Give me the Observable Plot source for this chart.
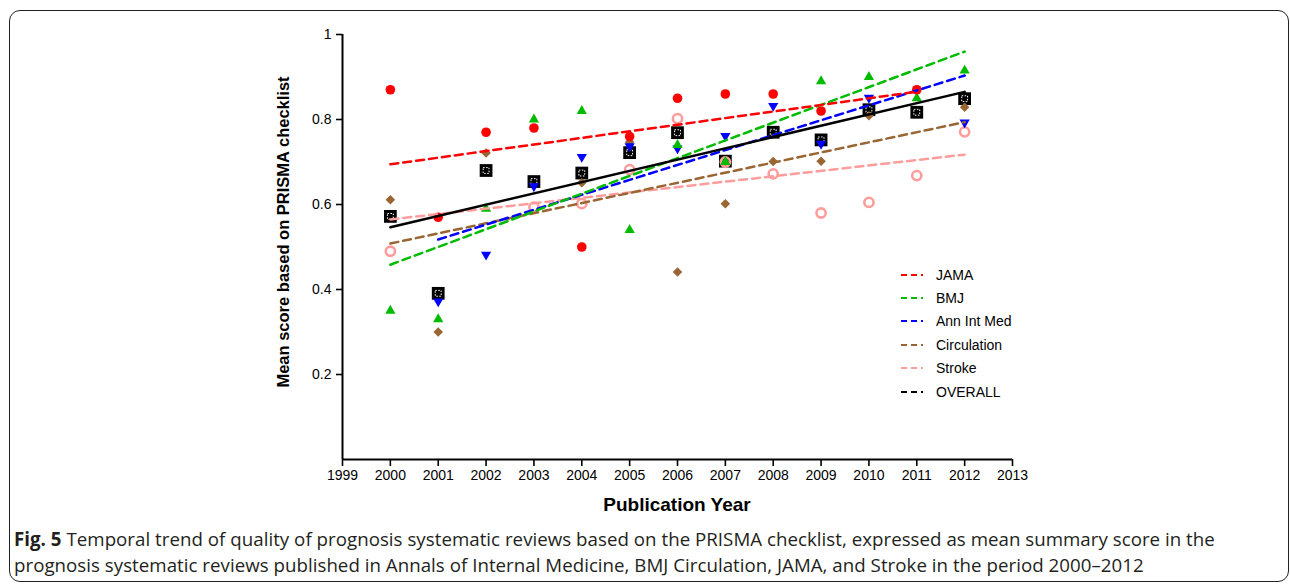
<!DOCTYPE html>
<html><head><meta charset="utf-8">
<script src="https://cdn.jsdelivr.net/npm/d3@7"></script>
<script src="https://cdn.jsdelivr.net/npm/@observablehq/plot@0.6"></script>
<style>
html,body{margin:0;padding:0;background:#fff}
body{width:1290px;height:584px;overflow:hidden;position:relative;font-family:"Liberation Sans",Arial,sans-serif;color:#000}
#frame{position:absolute;left:9px;top:10px;width:1280px;height:572px;box-sizing:border-box;border:1.5px solid #222;border-radius:11px}
#chart{position:absolute;left:0;top:0}
#ytitle{position:absolute;left:283px;top:232px;transform:translate(-50%,-50%) rotate(-90deg);white-space:nowrap;font-weight:bold;font-size:16.5px}
#xtitle{position:absolute;left:677px;top:505px;transform:translate(-50%,-50%);white-space:nowrap;font-weight:bold;font-size:19px}
#legend{position:absolute;left:900px;top:263px;font-size:14px}
#legend .row{height:23.4px;display:flex;align-items:center}
#legend svg{margin-right:12px}
#caption{position:absolute;left:14px;top:526px;font-family:"Open Sans",sans-serif;font-size:18.7px;line-height:26px;color:#231f20;white-space:nowrap;letter-spacing:0.03px}
</style></head>
<body>
<div id="frame"></div>
<div id="chart"></div>
<div id="ytitle">Mean score based on PRISMA checklist</div>
<div id="xtitle">Publication Year</div>
<div id="legend"></div>
<div id="caption"><b>Fig. 5</b> Temporal trend of quality of prognosis systematic reviews based on the PRISMA checklist, expressed as mean summary score in the<br>prognosis systematic reviews published in Annals of Internal Medicine, BMJ Circulation, JAMA, and Stroke in the period 2000–2012</div>
<script>
// ---- data ----
const years = [2000, 2001, 2002, 2003, 2004, 2005, 2006, 2007, 2008, 2009, 2010, 2011, 2012];
const seriesNames = ["JAMA", "BMJ", "Ann Int Med", "Circulation", "Stroke", "OVERALL"];
const jama        = [0.87, 0.57, 0.77, 0.78, 0.50, 0.76, 0.85, 0.86, 0.86, 0.82, null, 0.87, null];
const bmj         = [0.35, 0.33, 0.59, 0.80, 0.82, 0.54, 0.74, 0.70, null, 0.89, 0.90, 0.85, 0.915];
const annIntMed   = [null, 0.372, 0.482, 0.643, 0.712, 0.737, 0.732, 0.761, 0.832, 0.743, 0.851, null, 0.793];
const circulation = [0.611, 0.30, 0.721, null, 0.651, 0.747, 0.441, 0.602, 0.701, 0.702, 0.809, null, 0.829];
const stroke      = [0.49, null, null, 0.594, 0.602, 0.682, 0.802, 0.70, 0.672, 0.58, 0.605, 0.668, 0.771];
const overall     = [0.572, 0.391, 0.680, 0.654, 0.674, 0.722, 0.769, 0.702, 0.770, 0.752, 0.823, 0.817, 0.849];
const xTicks = [1999, 2000, 2001, 2002, 2003, 2004, 2005, 2006, 2007, 2008, 2009, 2010, 2011, 2012, 2013];
const yTicks = [0.2, 0.4, 0.6, 0.8, 1];
const colors = ["#ff0000", "#00bb00", "#0000ff", "#996633", "#ff9c9c", "#000000"];

const valuesBySeries = [jama, bmj, annIntMed, circulation, stroke, overall];
const tables = valuesBySeries.map((vals, i) =>
  years.map((year, j) => ({year, value: vals[j], series: seriesNames[i]})).filter(d => d.value != null));
const [tJama, tBmj, tAnn, tCirc, tStroke, tOverall] = tables;

const dash = "8,5";
const xy = {x: "year", y: "value"};
const reg = (t, i, extra = {}) => Plot.linearRegressionY(t, {...xy, stroke: colors[i], strokeWidth: 2.5, ci: 0, ...extra});

const chart = Plot.plot({
  width: 1290, height: 520,
  marginLeft: 342, marginRight: 278, marginTop: 34, marginBottom: 61,
  style: {fontFamily: "Liberation Sans, Arial, sans-serif", fontSize: "14px", color: "#000", background: "transparent"},
  x: {domain: [1999, 2013]},
  y: {domain: [0, 1]},
  marks: [
    Plot.axisX({ticks: xTicks, tickSize: 7, tickPadding: 4, tickFormat: d => String(d), strokeWidth: 1.6, label: null, fontSize: 14}),
    Plot.axisY({ticks: yTicks, tickSize: 6, tickPadding: 5, tickFormat: d => String(d), strokeWidth: 1.6, label: null, fontSize: 14}),
    Plot.ruleX([1999], {strokeWidth: 2}),
    Plot.ruleY([0], {strokeWidth: 2}),
    // markers (overall first, underneath)
    Plot.dot(tOverall, {...xy, symbol: "square", r: 7.2, fill: colors[5]}),
    Plot.dot(tOverall, {...xy, symbol: "square", r: 3.3, fill: "none", stroke: "white", strokeWidth: 1, strokeDasharray: "1.5,1.5"}),
    Plot.dot(tStroke, {...xy, r: 4.6, fill: "none", stroke: colors[4], strokeWidth: 2.6}),
    Plot.dot(tCirc, {...xy, symbol: "diamond2", r: 4.3, fill: colors[3]}),
    Plot.dot(tAnn, {...xy, symbol: "triangle", r: 3.8, rotate: 180, fill: colors[2]}),
    Plot.dot(tBmj, {...xy, symbol: "triangle", r: 3.8, fill: colors[1]}),
    Plot.dot(tJama, {...xy, r: 4.8, fill: colors[0]}),
    // trend lines
    reg(tStroke, 4, {strokeDasharray: dash}),
    reg(tCirc, 3, {strokeDasharray: dash}),
    reg(tAnn, 2, {strokeDasharray: dash}),
    reg(tBmj, 1, {strokeDasharray: dash}),
    reg(tJama, 0, {strokeDasharray: dash}),
    reg(tOverall, 5)
  ]
});
document.getElementById("chart").appendChild(chart);

// legend
const legend = document.getElementById("legend");
seriesNames.forEach((name, i) => {
  const row = document.createElement("div");
  row.className = "row";
  row.innerHTML = `<svg width="24" height="6"><line x1="1" y1="3" x2="23" y2="3" stroke="${colors[i]}" stroke-width="2" stroke-dasharray="6,4"/></svg><span>${name}</span>`;
  legend.appendChild(row);
});
</script>
</body></html>
